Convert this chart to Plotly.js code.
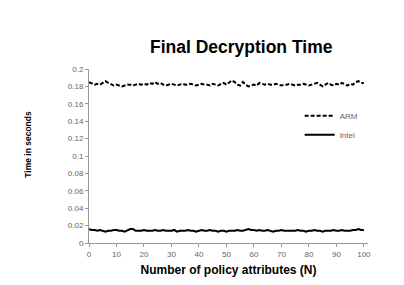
<!DOCTYPE html>
<html>
<head>
<meta charset="utf-8">
<script src="https://cdn.plot.ly/plotly-3.0.1.min.js"></script>
<style>html,body{margin:0;padding:0;background:#fff;}#chart{width:404px;height:285px;}</style>
</head>
<body>
<div id="chart"></div>
<script>
var attributes = [];
for (var i = 0; i <= 100; i++) attributes.push(i);

var armTimes = [
0.185,0.183,0.182,0.183,0.182,0.184,0.186,0.184,0.182,0.181,
0.182,0.181,0.180,0.181,0.182,0.182,0.181,0.182,0.183,0.182,
0.183,0.182,0.184,0.183,0.185,0.183,0.184,0.182,0.181,0.182,
0.183,0.182,0.181,0.182,0.183,0.182,0.182,0.183,0.182,0.181,
0.182,0.183,0.182,0.182,0.181,0.183,0.182,0.181,0.183,0.184,
0.182,0.184,0.187,0.185,0.182,0.181,0.185,0.182,0.180,0.181,
0.182,0.181,0.184,0.183,0.182,0.183,0.182,0.182,0.183,0.182,
0.181,0.182,0.182,0.183,0.182,0.181,0.182,0.182,0.183,0.182,
0.181,0.182,0.183,0.184,0.182,0.180,0.182,0.184,0.182,0.181,
0.183,0.182,0.184,0.182,0.181,0.183,0.182,0.185,0.186,0.184,
0.184];

var intelTimes = [
0.016,0.015,0.015,0.014,0.015,0.014,0.013,0.014,0.014,0.015,
0.015,0.014,0.014,0.013,0.015,0.016,0.016,0.014,0.014,0.014,
0.015,0.014,0.014,0.014,0.015,0.014,0.014,0.015,0.014,0.014,
0.014,0.015,0.013,0.014,0.014,0.014,0.015,0.014,0.014,0.013,
0.014,0.015,0.014,0.014,0.015,0.014,0.014,0.013,0.014,0.014,
0.013,0.014,0.014,0.014,0.015,0.014,0.014,0.015,0.016,0.015,
0.015,0.014,0.015,0.014,0.014,0.015,0.014,0.013,0.014,0.014,
0.015,0.014,0.014,0.014,0.014,0.014,0.015,0.014,0.014,0.013,
0.014,0.014,0.015,0.014,0.014,0.013,0.014,0.014,0.014,0.015,
0.014,0.014,0.015,0.014,0.014,0.014,0.015,0.015,0.016,0.015,
0.015];

var xTicks = [0,10,20,30,40,50,60,70,80,90,100];
var yTicks = [0,0.02,0.04,0.06,0.08,0.1,0.12,0.14,0.16,0.18,0.2];
var yTickText = ["0","0.02","0.04","0.06","0.08","0.1","0.12","0.14","0.16","0.18","0.2"];

var traces = [
  {x: attributes, y: armTimes, name: "ARM", type: "scatter", mode: "lines",
   line: {color: "#000000", width: 2, dash: "4px,2px"}},
  {x: attributes, y: intelTimes, name: "Intel", type: "scatter", mode: "lines",
   line: {color: "#000000", width: 2}}
];

var axisFont = {family: "Liberation Sans, Arial, sans-serif", size: 8, color: "#666666"};

var layout = {
  width: 404, height: 285,
  margin: {l: 89, r: 36, t: 69, b: 42, pad: 0},
  paper_bgcolor: "#ffffff", plot_bgcolor: "#ffffff",
  showlegend: true,
  title: {text: "<b>Final Decryption Time</b>", x: 0.597, xanchor: "center", y: 0.835, yanchor: "middle",
          font: {family: "Liberation Sans, Arial, sans-serif", size: 17.5, color: "#000000"}},
  xaxis: {range: [0, 101.5], tickvals: xTicks, ticktext: xTicks.map(String),
          showgrid: false, zeroline: false, showline: true, linecolor: "#999999", linewidth: 1,
          ticks: "outside", ticklen: 3, tickcolor: "#999999", tickfont: axisFont,
          title: {text: "<b>Number of policy attributes (N)</b>", standoff: 8,
                  font: {family: "Liberation Sans, Arial, sans-serif", size: 12, color: "#000000"}}},
  yaxis: {range: [0, 0.2], tickvals: yTicks, ticktext: yTickText,
          showgrid: false, zeroline: false, showline: true, linecolor: "#999999", linewidth: 1,
          ticks: "outside", ticklen: 3, tickcolor: "#999999", tickfont: axisFont},
  annotations: [{text: "<b>Time in seconds</b>", xref: "paper", yref: "paper",
                 x: -0.219, y: 0.57, xanchor: "center", yanchor: "middle", textangle: -90,
                 showarrow: false,
                 font: {family: "Liberation Sans, Arial, sans-serif", size: 8.5, color: "#000000"}}],
  legend: {x: 0.755, y: 0.815, xanchor: "left", yanchor: "top", bgcolor: "rgba(0,0,0,0)",
           font: {family: "Liberation Sans, Arial, sans-serif", size: 8, color: "#666666"},
           tracegroupgap: 0}
};

Plotly.newPlot("chart", traces, layout, {staticPlot: true, displayModeBar: false});
</script>
</body>
</html>
